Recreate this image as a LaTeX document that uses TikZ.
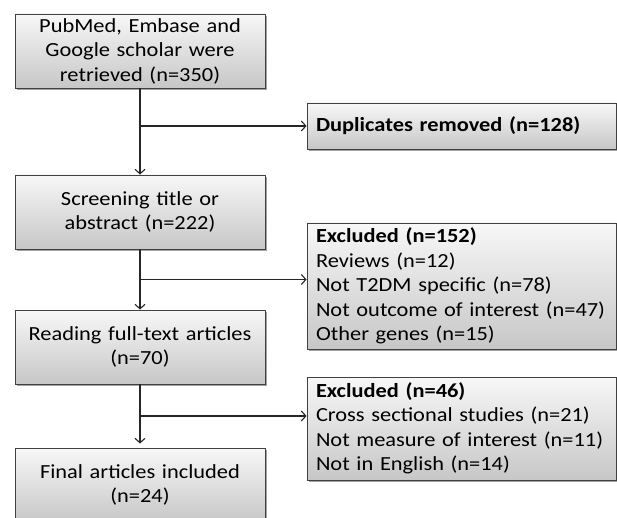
\documentclass[tikz,border=0pt]{standalone}
\usepackage{fontspec}
\setmainfont{Carlito}[FakeStretch=1.12]
\usetikzlibrary{arrows.meta,shadows,calc}
\begin{document}
\begin{tikzpicture}[x=1pt,y=1pt,
  boxbase/.style={draw=black!75, line width=0.9pt, top color=white!97!black, bottom color=black!22,
    drop shadow={shadow xshift=2pt, shadow yshift=-2pt, fill=black!60, opacity=0.6},
    inner sep=0pt, font=\fontsize{20}{24.5}\selectfont},
  lbox/.style={boxbase, minimum width=250pt, text width=244pt, align=center, minimum height=74pt},
  rbox/.style={boxbase, minimum width=309pt, text width=291pt, align=left},
  conn/.style={draw=black!85, line width=1.1pt},
  arr/.style={conn, -{Straight Barb[length=4.5pt,width=10pt]}}
]
\useasboundingbox (0,0) rectangle (617,-518);
\clip (0,0) rectangle (617,-518);

\node[lbox] (b1) at (140,-51) {PubMed, Embase and\\Google scholar were\\retrieved (n=350)};
\node[lbox] (b2) at (140,-212) {Screening title or\\abstract (n=222)};
\node[lbox] (b3) at (140,-347) {Reading full-text articles\\(n=70)};
\node[lbox] (b4) at (140,-485) {Final articles included\\(n=24)};

\node[rbox, minimum height=46pt] (d1) at (461.5,-126) {\textbf{Duplicates removed (n=128)}};
\node[rbox, minimum height=126pt] (e1) at (461.5,-286) {\textbf{Excluded (n=152)}\\Reviews (n=12)\\Not T2DM specific (n=78)\\Not outcome of interest (n=47)\\Other genes (n=15)};
\node[rbox, minimum height=103pt] (e2) at (461.5,-428.5) {\textbf{Excluded (n=46)}\\Cross sectional studies (n=21)\\Not measure of interest (n=11)\\Not in English (n=14)};

\coordinate (j1) at (b1.south |- d1.west);
\coordinate (j2) at ($(b2.south)!0.5!(b3.north)$);
\coordinate (j3) at ($(b3.south)!0.5!(b4.north)$);

\draw[arr] (b1.south) -- (b2.north);
\draw[arr] (b2.south) -- (b3.north);
\draw[arr, shorten >=4pt] (b3.south) -- (b4.north);
\draw[arr] (j1) -- (d1.west);
\draw[arr] (j2) -- (j2 -| e1.west);
\draw[arr] (j3) -- (j3 -| e2.west);
\end{tikzpicture}
\end{document}
